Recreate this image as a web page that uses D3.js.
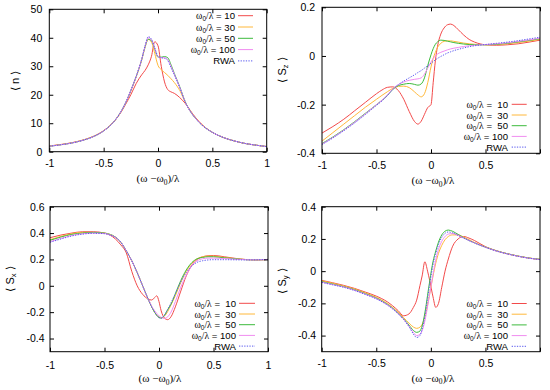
<!DOCTYPE html>
<html><head><meta charset="utf-8">
<script src="https://cdn.jsdelivr.net/npm/d3@7"></script>
<style>
body{margin:0;background:#fff;}
svg{display:block;}
text{font-family:"Liberation Sans",Arial,sans-serif;fill:#000;white-space:pre;}
</style>
</head><body>
<svg id="chart" width="550" height="390"></svg>
<script>
// ---------- data ----------
const seriesNames = ["10", "30", "50", "100", "RWA"];
const seriesColors = ["#f24a4a", "#ffb83a", "#3dbb3d", "#f08cf0", "#5a5aef"];
const xTicks = [-1, -0.5, 0, 0.5, 1];

// <n>
const xN = [-1,-0.9,-0.8,-0.7,-0.6,-0.5,-0.4,-0.35,-0.3,-0.25,-0.2,-0.15,-0.12,-0.09,-0.06,-0.03,0,0.03,0.06,0.09,0.12,0.15,0.2,0.25,0.3,0.35,0.4,0.5,0.6,0.7,0.8,0.9,1];
const n10  = [2.0,2.5,3.1,4.0,5.3,7.4,10.8,13.3,16.5,20.0,24.0,27.0,28.5,30.5,33.5,38.6,37.2,30.0,24.5,21.8,21.0,20.5,19.0,17.0,14.3,11.8,9.7,6.8,5.0,3.8,2.9,2.3,1.8];
const n30  = [1.95,2.45,3.05,3.95,5.25,7.35,10.8,13.4,16.8,21.3,26.3,32.2,36.5,39.4,38.5,34.5,30.3,28.8,27.8,26.8,25.6,24.3,21.5,17.4,14.1,11.6,9.6,6.8,5.0,3.8,2.9,2.3,1.8];
const n50  = [1.9,2.4,3.0,3.9,5.2,7.3,10.8,13.5,17.0,21.5,26.5,32.3,36.7,39.5,39.0,36.0,33.2,33.2,33.4,33.0,30.5,27.5,22.8,17.6,14.0,11.5,9.5,6.8,5.0,3.8,2.9,2.3,1.8];
const n100 = [1.9,2.4,3.0,3.9,5.2,7.3,10.8,13.5,17.0,21.5,26.5,32.4,36.8,40.0,39.3,36.2,33.3,33.0,33.0,32.4,30.0,27.2,22.6,17.5,14.0,11.5,9.5,6.8,5.0,3.8,2.9,2.3,1.8];
const nRWA = [1.9,2.4,3.0,3.9,5.2,7.3,10.8,13.5,17.0,21.5,26.5,32.5,37.0,40.4,39.5,36.5,33.5,33.0,32.8,32.0,29.5,27.0,22.5,17.5,14.0,11.5,9.5,6.8,5.0,3.8,2.9,2.3,1.8];
const nTicks = [0, 10, 20, 30, 40, 50];

// <Sz>
const xSz = [-1,-0.9,-0.8,-0.7,-0.6,-0.5,-0.45,-0.4,-0.35,-0.3,-0.25,-0.2,-0.15,-0.12,-0.09,-0.06,-0.03,0,0.02,0.04,0.06,0.09,0.12,0.15,0.18,0.21,0.25,0.3,0.35,0.4,0.5,0.6,0.7,0.8,0.9,1];
const sz10  = [-0.317,-0.29,-0.26,-0.225,-0.19,-0.155,-0.14,-0.129,-0.127,-0.142,-0.178,-0.228,-0.27,-0.28,-0.268,-0.24,-0.212,-0.2,-0.11,-0.02,0.04,0.09,0.115,0.128,0.131,0.125,0.108,0.086,0.068,0.057,0.046,0.044,0.046,0.05,0.057,0.065];
const sz30  = [-0.35,-0.315,-0.28,-0.245,-0.21,-0.178,-0.162,-0.147,-0.133,-0.125,-0.124,-0.13,-0.148,-0.16,-0.168,-0.155,-0.11,-0.045,-0.01,0.015,0.035,0.052,0.06,0.062,0.062,0.06,0.057,0.053,0.05,0.048,0.046,0.047,0.05,0.055,0.061,0.068];
const sz50  = [-0.36,-0.333,-0.303,-0.27,-0.235,-0.2,-0.182,-0.162,-0.137,-0.122,-0.116,-0.113,-0.117,-0.12,-0.115,-0.09,-0.04,0.005,0.03,0.048,0.058,0.065,0.064,0.061,0.058,0.055,0.052,0.049,0.047,0.046,0.046,0.048,0.052,0.058,0.064,0.071];
const sz100 = [-0.362,-0.335,-0.305,-0.272,-0.237,-0.2,-0.182,-0.16,-0.135,-0.118,-0.107,-0.1,-0.096,-0.094,-0.09,-0.075,-0.05,-0.025,-0.01,0.0,0.008,0.015,0.02,0.025,0.029,0.032,0.035,0.039,0.042,0.044,0.047,0.05,0.054,0.06,0.066,0.073];
const szRWA = [-0.364,-0.337,-0.307,-0.275,-0.24,-0.203,-0.185,-0.163,-0.137,-0.118,-0.103,-0.09,-0.077,-0.068,-0.06,-0.05,-0.04,-0.03,-0.023,-0.016,-0.01,-0.002,0.005,0.012,0.017,0.022,0.027,0.033,0.038,0.042,0.047,0.052,0.057,0.063,0.07,0.077];
const szTicks = [-0.4, -0.2, 0, 0.2];

// <Sx>
const xSx = [-1,-0.9,-0.8,-0.7,-0.6,-0.5,-0.45,-0.4,-0.35,-0.3,-0.25,-0.2,-0.15,-0.1,-0.07,-0.04,-0.02,0,0.02,0.05,0.08,0.11,0.15,0.2,0.25,0.3,0.35,0.4,0.45,0.5,0.6,0.7,0.8,0.9,1];
const sx10  = [0.365,0.385,0.4,0.41,0.41,0.4,0.385,0.355,0.31,0.25,0.11,0.0,-0.065,-0.1,-0.108,-0.09,-0.076,-0.12,-0.19,-0.245,-0.257,-0.235,-0.16,-0.04,0.075,0.155,0.2,0.22,0.228,0.23,0.22,0.208,0.199,0.196,0.2];
const sx30  = [0.35,0.375,0.395,0.405,0.405,0.4,0.39,0.37,0.33,0.265,0.19,0.1,0.0,-0.1,-0.155,-0.2,-0.225,-0.24,-0.243,-0.23,-0.195,-0.145,-0.075,0.025,0.11,0.17,0.205,0.22,0.225,0.225,0.215,0.206,0.199,0.197,0.2];
const sx50  = [0.345,0.37,0.39,0.4,0.405,0.4,0.39,0.37,0.33,0.265,0.19,0.1,0.0,-0.1,-0.155,-0.2,-0.225,-0.24,-0.245,-0.225,-0.18,-0.14,-0.06,0.04,0.12,0.175,0.205,0.215,0.22,0.22,0.212,0.205,0.198,0.197,0.2];
const sx100 = [0.335,0.36,0.382,0.395,0.4,0.397,0.387,0.368,0.33,0.265,0.19,0.1,0.0,-0.1,-0.15,-0.19,-0.21,-0.228,-0.24,-0.247,-0.235,-0.2,-0.12,-0.01,0.08,0.15,0.19,0.205,0.21,0.21,0.207,0.202,0.198,0.197,0.2];
const sxRWA = [0.33,0.355,0.378,0.392,0.398,0.395,0.385,0.367,0.33,0.265,0.19,0.1,0.0,-0.1,-0.155,-0.2,-0.225,-0.242,-0.245,-0.222,-0.18,-0.13,-0.06,0.03,0.1,0.15,0.178,0.19,0.196,0.198,0.198,0.197,0.196,0.197,0.2];
const sxTicks = [-0.4, -0.2, 0, 0.2, 0.4, 0.6];

// <Sy>
const xSy = [-1,-0.9,-0.8,-0.7,-0.6,-0.5,-0.4,-0.35,-0.3,-0.25,-0.2,-0.16,-0.13,-0.1,-0.08,-0.055,-0.03,-0.01,0.02,0.045,0.07,0.1,0.13,0.16,0.2,0.25,0.3,0.35,0.4,0.5,0.6,0.7,0.8,0.9,1];
const sy10  = [-0.057,-0.072,-0.088,-0.107,-0.13,-0.155,-0.19,-0.215,-0.245,-0.277,-0.265,-0.225,-0.18,-0.09,-0.03,0.058,0.0,-0.06,-0.16,-0.225,-0.2,-0.1,0.0,0.075,0.155,0.2,0.215,0.205,0.19,0.152,0.127,0.108,0.093,0.081,0.072];
const sy30  = [-0.06,-0.075,-0.092,-0.111,-0.135,-0.162,-0.2,-0.225,-0.255,-0.288,-0.323,-0.347,-0.355,-0.348,-0.33,-0.285,-0.21,-0.14,-0.03,0.05,0.11,0.16,0.195,0.215,0.225,0.225,0.212,0.195,0.178,0.15,0.126,0.108,0.093,0.081,0.073];
const sy50  = [-0.065,-0.08,-0.096,-0.115,-0.14,-0.167,-0.205,-0.23,-0.26,-0.295,-0.335,-0.368,-0.38,-0.372,-0.34,-0.26,-0.15,-0.06,0.06,0.125,0.18,0.225,0.248,0.255,0.247,0.228,0.208,0.19,0.175,0.149,0.126,0.108,0.093,0.081,0.073];
const sy100 = [-0.068,-0.083,-0.098,-0.118,-0.143,-0.17,-0.208,-0.233,-0.263,-0.298,-0.342,-0.38,-0.4,-0.392,-0.37,-0.31,-0.22,-0.14,-0.02,0.07,0.135,0.185,0.215,0.23,0.233,0.222,0.206,0.19,0.175,0.148,0.125,0.107,0.092,0.08,0.072];
const syRWA = [-0.07,-0.085,-0.1,-0.12,-0.145,-0.172,-0.21,-0.235,-0.265,-0.3,-0.345,-0.39,-0.412,-0.4,-0.36,-0.28,-0.17,-0.08,0.04,0.11,0.165,0.21,0.235,0.243,0.238,0.222,0.205,0.19,0.175,0.148,0.125,0.107,0.092,0.08,0.072];
const syTicks = [-0.4, -0.2, 0, 0.2, 0.4];

// ---------- drawing ----------
const svg = d3.select("#chart");
const fmt = d => String(d);

const panels = [
  {x: xN,  ys: [n10, n30, n50, n100, nRWA], yDomain: [0, 50], yTicks: nTicks, xLabels: [-1,-0.5,0,0.5,1],
   box: {l: 49.3, r: 266.7, t: 9.3, b: 151.7}, yPad: 7, xPad: 7.5, titleX: 158, titleY: 182,
   ylab: {x: 15, y: 81, sub: null, main: "n"},
   leg: {tx: 235, x1: 238, x2: 253, y0: 15.7, dy: 11.3, wide: false}},
  {x: xSz, ys: [sz10, sz30, sz50, sz100, szRWA], yDomain: [-0.4, 0.2], yTicks: szTicks, xLabels: [-1,-0.5,0,0.5],
   box: {l: 322, r: 540, t: 7.3, b: 153.3}, yPad: 7, xPad: 8, titleX: 433, titleY: 184,
   ylab: {x: 282, y: 70, sub: "z", main: "S"},
   leg: {tx: 508, x1: 511.7, x2: 526.7, y0: 104.3, dy: 10.7, wide: true}},
  {x: xSx, ys: [sx10, sx30, sx50, sx100, sxRWA], yDomain: [-0.5, 0.6], yTicks: sxTicks, xLabels: [-1,-0.5,0,0.5,1],
   box: {l: 50, r: 268, t: 206.7, b: 351.7}, yPad: 5.5, xPad: 9.5, titleX: 160, titleY: 382,
   ylab: {x: 10, y: 279, sub: "x", main: "S"},
   leg: {tx: 236, x1: 239, x2: 255, y0: 303.3, dy: 10.7, wide: true}},
  {x: xSy, ys: [sy10, sy30, sy50, sy100, syRWA], yDomain: [-0.5, 0.4], yTicks: syTicks, xLabels: [-1,-0.5,0,0.5],
   box: {l: 321.7, r: 540, t: 206.7, b: 351.7}, yPad: 5.5, xPad: 8, titleX: 433, titleY: 381.5,
   ylab: {x: 282, y: 281, sub: "y", main: "S"},
   leg: {tx: 508, x1: 511.7, x2: 526.7, y0: 303.5, dy: 10.7, wide: true}}
];

const FS = 10.5;
const LFS = 9.6;

panels.forEach(p => {
  const b = p.box;
  const x = d3.scaleLinear().domain([-1, 1]).range([b.l, b.r]);
  const y = d3.scaleLinear().domain(p.yDomain).range([b.b, b.t]);
  const g = svg.append("g");

  const cid = "clip" + Math.round(b.l) + "_" + Math.round(b.t);
  svg.append("clipPath").attr("id", cid).append("rect")
    .attr("x", b.l).attr("y", b.t).attr("width", b.r - b.l).attr("height", b.b - b.t);

  const line = d3.line().x((d, i) => x(p.x[i])).y(d => y(d)).curve(d3.curveMonotoneX);
  p.ys.forEach((vals, si) => {
    g.append("path").attr("d", line(vals)).attr("fill", "none")
      .attr("stroke", seriesColors[si]).attr("stroke-width", 1)
      .attr("stroke-dasharray", si === 4 ? "1.3,1.3" : null)
      .attr("clip-path", `url(#${cid})`);
  });

  const axL = d3.axisLeft(y).tickValues(p.yTicks).tickSize(-4).tickPadding(p.yPad).tickFormat(fmt);
  const axR = d3.axisRight(y).tickValues(p.yTicks).tickSize(-4).tickFormat("");
  const axB = d3.axisBottom(x).tickValues(xTicks).tickSize(-4).tickPadding(p.xPad)
    .tickFormat(d => p.xLabels.includes(d) ? fmt(d) : "");
  const axT = d3.axisTop(x).tickValues(xTicks).tickSize(-4).tickFormat("");
  [[axL, `translate(${b.l},0)`], [axR, `translate(${b.r},0)`], [axB, `translate(0,${b.b})`], [axT, `translate(0,${b.t})`]]
    .forEach(([ax, tr]) => {
      const a = g.append("g").attr("transform", tr).call(ax);
      a.select(".domain").remove();
      a.selectAll("line").attr("stroke", "#000").attr("stroke-width", 1);
      a.selectAll("text").attr("font-family", '"Liberation Sans",Arial,sans-serif').attr("font-size", FS).attr("fill", "#000");
    });

  g.append("rect").attr("x", b.l).attr("y", b.t).attr("width", b.r - b.l).attr("height", b.b - b.t)
    .attr("fill", "none").attr("stroke", "#000").attr("stroke-width", 1);

  const t = g.append("text").attr("x", p.titleX).attr("y", p.titleY).attr("text-anchor", "middle")
    .attr("font-size", 11).style("font-family", '"Liberation Serif","DejaVu Serif",serif');
  t.append("tspan").text("(ω −ω");
  t.append("tspan").attr("font-size", 7.5).attr("dy", 2.5).text("0");
  t.append("tspan").attr("dy", -2.5).text(")/λ");

  const yl = g.append("text").attr("transform", `translate(${p.ylab.x},${p.ylab.y}) rotate(-90)`)
    .attr("text-anchor", "middle").attr("dy", "0.35em").attr("font-size", 11);
  yl.append("tspan").text("\u27E8 " + p.ylab.main);
  if (p.ylab.sub) {
    yl.append("tspan").attr("font-size", 7.5).attr("dy", 2.5).text(p.ylab.sub);
    yl.append("tspan").attr("dy", -2.5).text(" \u27E9");
  } else {
    yl.append("tspan").text(" \u27E9");
  }

  seriesNames.forEach((nm, i) => {
    const ly = p.leg.y0 + i * p.leg.dy;
    g.append("line").attr("x1", p.leg.x1).attr("x2", p.leg.x2).attr("y1", ly).attr("y2", ly)
      .attr("stroke", seriesColors[i]).attr("stroke-width", 1)
      .attr("stroke-dasharray", i === 4 ? "1.3,1.3" : null);
    const lt = g.append("text").attr("x", p.leg.tx).attr("y", ly + 3.5).attr("text-anchor", "end").attr("font-size", LFS);
    if (nm === "RWA") {
      lt.text("RWA");
    } else {
      lt.append("tspan").style("font-family", '"Liberation Serif","DejaVu Serif",serif').text("ω");
      lt.append("tspan").attr("font-size", 6.5).attr("dy", 2).text("0");
      lt.append("tspan").attr("dy", -2).style("font-family", '"Liberation Serif","DejaVu Serif",serif').text("/λ");
      const pad = (p.leg.wide && nm.length === 2) ? "  " : " ";
      lt.append("tspan").text(" =" + pad + nm);
    }
  });
});
</script>
</body></html>
